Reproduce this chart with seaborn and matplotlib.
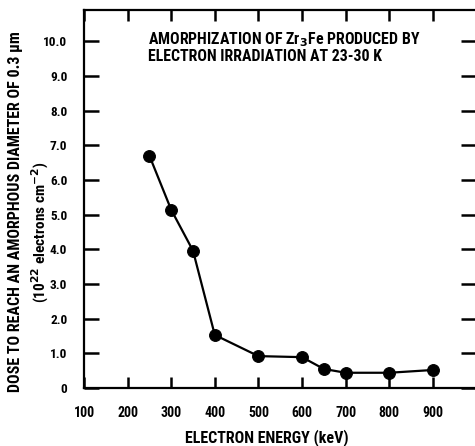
import pandas as pd
import numpy as np
import matplotlib
matplotlib.use('Agg')
import matplotlib.pyplot as plt
import seaborn as sns

# values
energy_kev = [250, 300, 350, 400, 500, 600, 650, 700, 800, 900]
dose_1e22  = [6.7, 5.14, 3.96, 1.53, 0.92, 0.89, 0.55, 0.44, 0.44, 0.52]

x_ticks = [100, 200, 300, 400, 500, 600, 700, 800, 900]
y_ticks = [0, 1, 2, 3, 4, 5, 6, 7, 8, 9, 10]
y_tick_labels = ['0', '1.0', '2.0', '3.0', '4.0', '5.0', '6.0', '7.0', '8.0', '9.0', '10.0']

sns.set_theme(style='ticks')
FONT = ['Roboto Condensed', 'DejaVu Sans']
plt.rcParams['font.family'] = FONT
plt.rcParams['font.weight'] = 'bold'
plt.rcParams['text.color'] = 'black'
plt.rcParams['mathtext.default'] = 'bf'

df = pd.DataFrame({'energy': energy_kev, 'dose': dose_1e22})

fig = plt.figure(figsize=(4.75, 4.46), dpi=100)
ax = fig.add_axes([0.1768, 0.130, 0.8262, 0.8476])

sns.lineplot(data=df, x='energy', y='dose', ax=ax, color='black', lw=1.6,
             marker='o', markersize=8.5, markeredgecolor='black', markerfacecolor='black')

ax.set_xlim(100, 1000)
ax.set_ylim(0, 10.9)
ax.set_xticks(x_ticks)
ax.set_xticklabels([str(t) for t in x_ticks], fontsize=10, fontweight='bold')
ax.set_yticks(y_ticks)
ax.set_yticklabels(y_tick_labels, fontsize=9.5, fontweight='bold')

for s in ax.spines.values():
    s.set_linewidth(1.6)
    s.set_color('black')

ax.tick_params(axis='x', direction='in', length=8, width=1.8, top=True, pad=13)
ax.tick_params(axis='y', direction='in', length=11, width=1.8, right=True, pad=12)
ax.tick_params(axis='both', colors='black', labelcolor='black')
ax.set_xlabel('')
ax.set_ylabel('')

fig.text(0.562, 0.02, 'ELECTRON ENERGY (keV)', fontsize=11.5, fontweight='bold',
         ha='center', va='center')
fig.text(0.032, 0.525, 'DOSE TO REACH AN AMORPHOUS DIAMETER OF 0.3 µm',
         fontsize=11.5, fontweight='bold', rotation=90, ha='center', va='center')
fig.text(0.085, 0.48, r'(10$^{22}$ electrons cm$^{-2}$)',
         fontsize=11, fontweight='bold', rotation=90, ha='center', va='center')

ax.text(0.163, 0.945, 'AMORPHIZATION OF Zr$_3$Fe PRODUCED BY\nELECTRON IRRADIATION AT 23-30 K',
        transform=ax.transAxes, fontsize=11.4, fontweight='bold', va='top', ha='left',
        linespacing=1.0)

fig.savefig('out.png', dpi=100)
